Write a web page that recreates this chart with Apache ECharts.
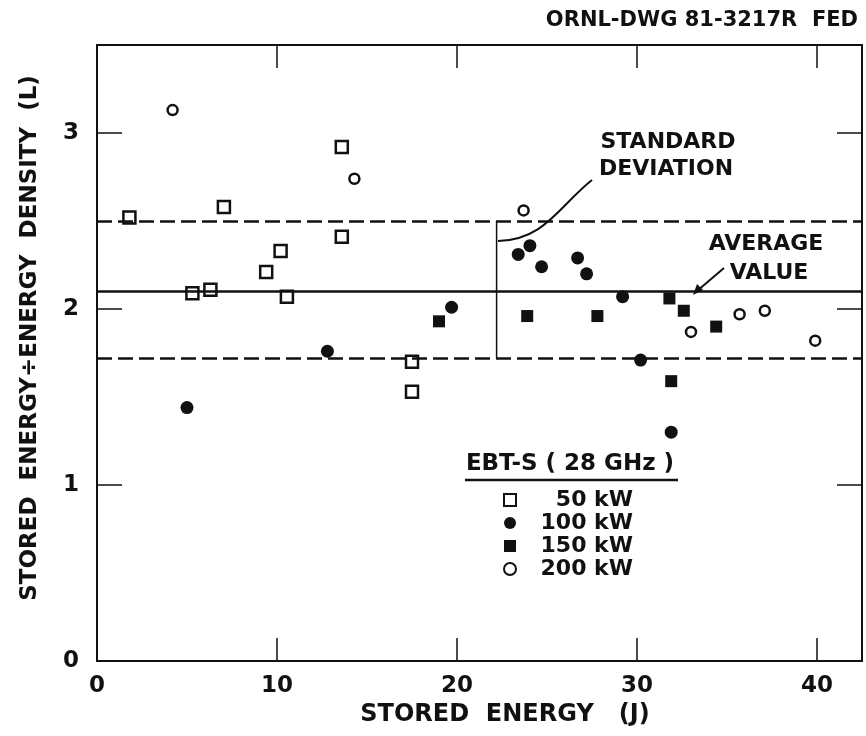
<!DOCTYPE html>
<html>
<head>
<meta charset="utf-8">
<script src="https://cdn.jsdelivr.net/npm/echarts@6/dist/echarts.min.js"></script>
<style>
  html, body { margin: 0; padding: 0; background: #fff; }
  #chart { width: 866px; height: 736px; }
</style>
</head>
<body>
<div id="chart"></div>
<script>
// EBT-S (28 GHz): stored energy vs stored energy / energy density
var p50  = [[1.8,2.52],[5.3,2.09],[6.3,2.11],[7.05,2.58],[9.4,2.21],[10.2,2.33],[10.55,2.07],[13.6,2.92],[13.6,2.41],[17.5,1.70],[17.5,1.53]];
var p100 = [[5.0,1.44],[12.8,1.76],[19.7,2.01],[23.4,2.31],[24.05,2.36],[24.7,2.24],[26.7,2.29],[27.2,2.20],[29.2,2.07],[30.2,1.71],[31.9,1.30]];
var p150 = [[19.0,1.93],[23.9,1.96],[27.8,1.96],[31.8,2.06],[32.6,1.99],[34.4,1.90],[31.9,1.59]];
var p200 = [[4.2,3.13],[14.3,2.74],[23.7,2.56],[33.0,1.87],[35.7,1.97],[37.1,1.99],[39.9,1.82]];
var avgValue = 2.1;
var sdUpper = 2.5;
var sdLower = 1.72;
var sdBarX = 22.2;
var xTicks = [0, 10, 20, 30, 40];
var yTicks = [0, 1, 2, 3];

var font = 'DejaVu Sans';
var ink = '#111';

function axisBase(extra) {
    var a = {
        type: 'value',
        splitLine: { show: false },
        axisLine: { show: true, onZero: false, lineStyle: { color: ink, width: 2 } },
        axisTick: { show: true, inside: true, length: 23, lineStyle: { color: ink, width: 1.5 } },
        axisLabel: { show: true, color: ink, fontFamily: font, fontWeight: 'bold', fontSize: 23 }
    };
    for (var k in extra) a[k] = extra[k];
    return a;
}

var chart = echarts.init(document.getElementById('chart'));
var option = {
    backgroundColor: '#fff',
    animation: false,
    grid: { left: 97, right: 4, top: 45, bottom: 75 },
    xAxis: [
        axisBase({ min: 0, max: 42.5, position: 'bottom',
            axisTick: { show: true, inside: true, length: 23, customValues: xTicks, lineStyle: { color: ink, width: 1.5 } },
            axisLabel: { show: true, customValues: xTicks, margin: 14, color: ink, fontFamily: font, fontWeight: 'bold', fontSize: 23 } }),
        axisBase({ min: 0, max: 42.5, position: 'top',
            axisTick: { show: true, inside: true, length: 23, customValues: xTicks.slice(1), lineStyle: { color: ink, width: 1.5 } },
            axisLabel: { show: false } })
    ],
    yAxis: [
        axisBase({ min: 0, max: 3.5, position: 'left',
            axisTick: { show: true, inside: true, length: 25, customValues: yTicks, lineStyle: { color: ink, width: 1.5 } },
            axisLabel: { show: true, customValues: yTicks, margin: 18, color: ink, fontFamily: font, fontWeight: 'bold', fontSize: 23 } }),
        axisBase({ min: 0, max: 3.5, position: 'right',
            axisTick: { show: true, inside: true, length: 25, customValues: yTicks.slice(1), lineStyle: { color: ink, width: 1.5 } },
            axisLabel: { show: false } })
    ],
    legend: {
        orient: 'vertical',
        left: 503,
        top: 489,
        padding: 0,
        itemWidth: 12,
        itemHeight: 12,
        itemGap: 1,
        data: ['50 kW', '100 kW', '150 kW', '200 kW'],
        formatter: function (name) { return '{a|' + name + '}'; },
        textStyle: {
            color: ink,
            rich: { a: { width: 112, lineHeight: 24, align: 'right', fontFamily: font, fontWeight: 'bold', fontSize: 22, color: ink } }
        }
    },
    series: [
        {
            name: 'lines',
            type: 'line',
            data: [[sdBarX, sdLower], [sdBarX, sdUpper]],
            symbol: 'none',
            silent: true,
            lineStyle: { color: ink, width: 1.5 },
            markLine: {
                silent: true,
                symbol: 'none',
                label: { show: false },
                data: [
                    { yAxis: avgValue, lineStyle: { type: 'solid', color: ink, width: 2.5 } },
                    { yAxis: sdUpper, lineStyle: { type: [15, 6], color: ink, width: 2.5 } },
                    { yAxis: sdLower, lineStyle: { type: [15, 6], color: ink, width: 2.5 } }
                ]
            },
            z: 1
        },
        {
            name: '50 kW', type: 'scatter', data: p50, symbol: 'rect', symbolSize: 12,
            itemStyle: { color: '#fff', borderColor: ink, borderWidth: 2.5, opacity: 1 }, z: 3
        },
        {
            name: '100 kW', type: 'scatter', data: p100, symbol: 'circle', symbolSize: 13,
            itemStyle: { color: ink, opacity: 1 }, z: 3
        },
        {
            name: '150 kW', type: 'scatter', data: p150, symbol: 'rect', symbolSize: 12,
            itemStyle: { color: ink, opacity: 1 }, z: 3
        },
        {
            name: '200 kW', type: 'scatter', data: p200, symbol: 'circle', symbolSize: 10,
            itemStyle: { color: '#fff', borderColor: ink, borderWidth: 2.5, opacity: 1 }, z: 3
        }
    ],
    graphic: [
        { type: 'text', right: 8, top: 10, style: { text: 'ORNL-DWG 81-3217R  FED', fill: ink, font: 'bold 21px "DejaVu Sans"' } },
        { type: 'text', x: 30, y: 338, rotation: Math.PI / 2,
          style: { text: 'STORED  ENERGY÷ENERGY  DENSITY  (L)', fill: ink, font: 'bold 23px "DejaVu Sans"', align: 'center', verticalAlign: 'middle' } },
        { type: 'text', x: 505, y: 715,
          style: { text: 'STORED  ENERGY   (J)', fill: ink, font: 'bold 24px "DejaVu Sans"', align: 'center', verticalAlign: 'middle' } },
        { type: 'text', x: 668, y: 142,
          style: { text: 'STANDARD', fill: ink, font: 'bold 22px "DejaVu Sans"', align: 'center', verticalAlign: 'middle' } },
        { type: 'text', x: 666, y: 169,
          style: { text: 'DEVIATION', fill: ink, font: 'bold 22px "DejaVu Sans"', align: 'center', verticalAlign: 'middle' } },
        { type: 'text', x: 766, y: 244,
          style: { text: 'AVERAGE', fill: ink, font: 'bold 22px "DejaVu Sans"', align: 'center', verticalAlign: 'middle' } },
        { type: 'text', x: 769, y: 273,
          style: { text: 'VALUE', fill: ink, font: 'bold 22px "DejaVu Sans"', align: 'center', verticalAlign: 'middle' } },
        { type: 'bezierCurve', shape: { x1: 498, y1: 241, cpx1: 545, cpy1: 240, cpx2: 560, cpy2: 205, x2: 592, y2: 180 },
          style: { stroke: ink, lineWidth: 2, fill: 'none' }, z: 5 },
        { type: 'line', shape: { x1: 724, y1: 268, x2: 697, y2: 291 }, style: { stroke: ink, lineWidth: 2 }, z: 5 },
        { type: 'polygon', shape: { points: [[693, 295], [697, 284], [703, 290]] }, style: { fill: ink }, z: 5 },
        { type: 'text', x: 570, y: 464,
          style: { text: 'EBT-S ( 28 GHz )', fill: ink, font: 'bold 23px "DejaVu Sans"', align: 'center', verticalAlign: 'middle' } },
        { type: 'line', shape: { x1: 465, y1: 480, x2: 678, y2: 480 }, style: { stroke: ink, lineWidth: 2.5 }, z: 5 }
    ]
};
chart.setOption(option);
</script>
</body>
</html>
